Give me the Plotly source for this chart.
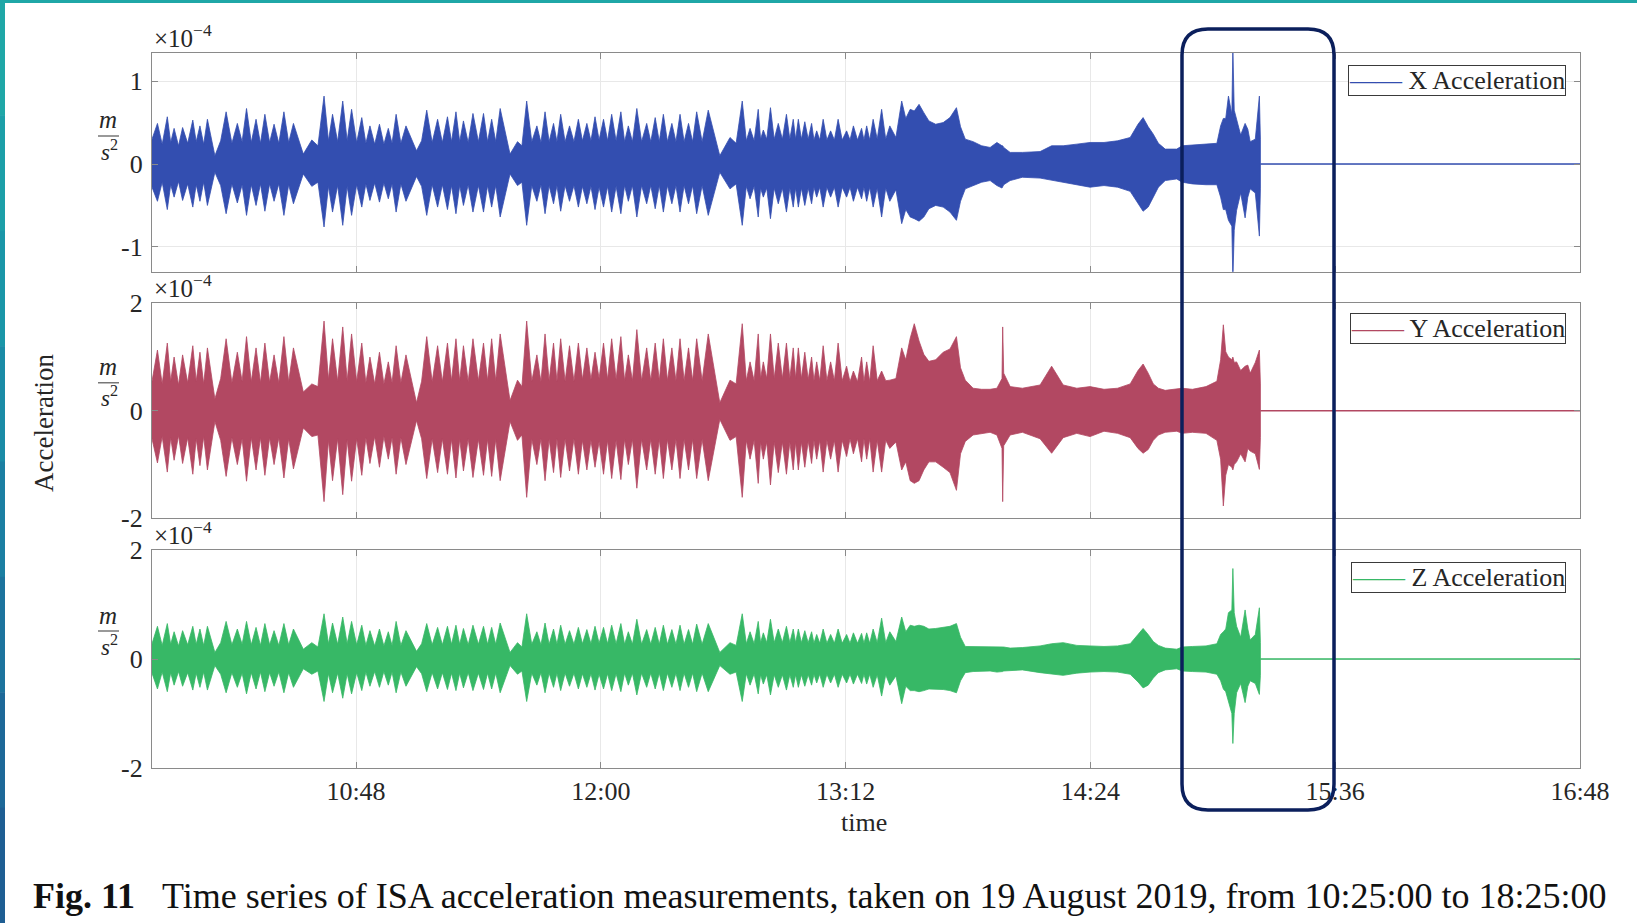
import pandas as pd
import plotly.graph_objects as go

# ---------------- data ----------------
day = "2019-08-19"
axis_start = "09:48"
axis_end = "16:48"
tick_labels = ["10:48", "12:00", "13:12", "14:24", "15:36", "16:48"]

# envelope sample times, minutes after 09:48 (burst peaks and the troughs between them)
t_min = [
    0.0, 1.6, 3.0, 4.5, 5.5, 6.5, 7.8, 9.0, 10.5, 12.0, 13.0, 14.1, 15.2, 16.3, 18.5,
    20.2, 21.8, 23.5, 25.1, 26.5, 27.8, 29.2, 30.6, 31.9, 33.2, 34.6, 35.9, 37.3, 38.8, 40.2, 41.6, 44.5, 47.0, 48.8,
    50.6, 51.9, 53.1, 54.6, 56.1, 57.4, 58.7, 60.2, 61.7, 62.9, 64.1, 65.5, 66.9, 68.2, 69.5, 70.6, 71.8, 73.2, 74.7, 77.8,
    79.3, 80.8, 82.4, 84.0, 85.4, 86.9, 88.1, 89.4, 90.5, 91.6, 93.0, 94.4, 96.0, 97.5, 98.7, 99.9, 101.1, 102.4, 105.3, 107.5, 108.8,
    110.2, 111.7, 113.2, 114.4, 115.6, 116.8, 118.1, 119.1, 120.2, 121.5, 122.8, 124.1, 125.4, 126.6, 127.9, 129.1, 130.3, 131.5,
    132.8, 134.0, 135.2, 136.5, 137.9, 139.0, 140.1, 141.3, 142.6, 144.0, 145.5, 146.7, 148.0, 149.2, 150.4, 151.6, 152.9, 154.1,
    155.3, 156.5, 157.8, 159.0, 160.2, 161.8, 163.6, 167.0, 170.0, 171.8,
    173.6, 174.8, 175.9, 177.1, 178.3, 179.0, 179.8, 180.8, 181.9, 183.0, 184.2, 185.4, 186.6, 187.6, 188.6, 189.3, 190.1, 191.0,
    192.0, 193.0, 194.0, 194.7, 195.5, 196.4, 197.4, 198.5, 199.6, 200.7, 201.8, 203.0, 204.3, 205.3, 206.3, 207.5, 208.7, 209.4,
    210.2, 211.1, 212.1, 213.3, 214.6, 215.8, 217.0, 218.8, 220.5,
    221.7, 223.0, 224.2, 225.6, 227.0, 228.5, 230.5, 232.7, 234.7, 236.6, 237.8, 239.2, 241.5, 244.0, 246.5,
    248.5, 250.0, 250.2, 250.5, 252.4, 256.0, 261.2, 264.6, 268.0, 272.0, 275.9, 280.0, 284.0, 287.7, 290.0, 291.5, 293.0, 294.5,
    296.0, 298.0, 301.4, 303.0, 306.0, 310.0, 313.2, 314.3, 315.1, 315.8, 316.6, 317.6, 317.9, 318.3, 319.0, 320.2, 321.5, 322.3,
    323.0, 324.5, 325.7, 326.0,
]

# X acceleration envelope (x1e-4 m/s^2)
x_hi = [
    .30, .49, .24, .57, .26, .43, .22, .44, .25, .53, .27, .46, .24, .54, .10,
    .28, .63, .25, .49, .27, .67, .26, .54, .25, .60, .26, .48, .25, .63, .26, .49, .12, .29, .22,
    .82, .28, .60, .27, .76, .28, .66, .26, .56, .25, .46, .24, .48, .24, .43, .25, .60, .25, .46, .16,
    .28, .65, .26, .54, .26, .57, .27, .63, .27, .52, .26, .61, .27, .61, .27, .54, .27, .67, .12, .27, .22,
    .76, .27, .46, .26, .63, .27, .49, .27, .60, .27, .46, .27, .54, .28, .49, .28, .57, .29,
    .54, .28, .60, .28, .63, .27, .46, .27, .67, .27, .49, .27, .56, .27, .60, .27, .49, .27,
    .60, .27, .49, .27, .63, .27, .65, .10, .32, .25,
    .76, .28, .43, .28, .66, .30, .41, .30, .68, .30, .49, .30, .60, .30, .54, .30, .54, .30,
    .51, .30, .49, .29, .40, .29, .54, .29, .40, .29, .54, .29, .40, .29, .46, .29, .43, .29,
    .46, .29, .54, .30, .66, .30, .46, .32, .76,
    .55, .66, .64, .72, .62, .52, .48, .50, .56, .68, .45, .30, .27, .22, .20,
    .26, .22, .22, .20, .14, .14, .15, .22, .22, .24, .26, .26, .28, .32, .48, .56, .45, .36,
    .25, .18, .18, .22, .23, .24, .25, .46, .55, .55, .82, .60, 1.40, .65, .54, .35, .49, .42,
    .27, .30, .82, .30,
]
x_lo = [
    -.28, -.45, -.22, -.55, -.25, -.40, -.21, -.44, -.24, -.52, -.25, -.45, -.22, -.50, -.10,
    -.26, -.60, -.24, -.47, -.25, -.62, -.25, -.50, -.24, -.57, -.24, -.45, -.24, -.62, -.25, -.48, -.12, -.27, -.22,
    -.76, -.27, -.58, -.26, -.74, -.27, -.62, -.25, -.52, -.24, -.44, -.23, -.46, -.23, -.42, -.24, -.58, -.24, -.45, -.15,
    -.27, -.62, -.25, -.52, -.25, -.55, -.26, -.60, -.26, -.50, -.25, -.58, -.26, -.58, -.26, -.52, -.26, -.64, -.12, -.26, -.22,
    -.74, -.26, -.45, -.25, -.60, -.26, -.48, -.26, -.57, -.26, -.45, -.26, -.52, -.27, -.48, -.27, -.55, -.28,
    -.52, -.27, -.58, -.27, -.60, -.26, -.45, -.26, -.64, -.26, -.48, -.26, -.54, -.26, -.58, -.26, -.48, -.26,
    -.58, -.26, -.48, -.26, -.60, -.26, -.62, -.10, -.30, -.24,
    -.74, -.27, -.42, -.27, -.64, -.29, -.40, -.29, -.66, -.29, -.48, -.29, -.58, -.29, -.52, -.29, -.52, -.29,
    -.50, -.29, -.48, -.28, -.40, -.28, -.52, -.28, -.40, -.28, -.52, -.28, -.40, -.28, -.45, -.28, -.42, -.28,
    -.45, -.28, -.52, -.29, -.64, -.29, -.45, -.31, -.72,
    -.55, -.64, -.66, -.69, -.64, -.54, -.50, -.52, -.58, -.68, -.45, -.30, -.26, -.22, -.20,
    -.26, -.29, -.28, -.25, -.20, -.16, -.17, -.20, -.22, -.25, -.28, -.26, -.28, -.33, -.48, -.57, -.52, -.40,
    -.28, -.20, -.18, -.22, -.24, -.25, -.25, -.40, -.55, -.55, -.68, -.75, -1.40, -.80, -.56, -.35, -.65, -.40,
    -.30, -.35, -.87, -.30,
]

# Y acceleration envelope
y_hi = [
    .55, 1.13, .50, 1.26, .55, 1.00, .48, 1.04, .52, 1.21, .55, 1.09, .50, 1.17, .22,
    .60, 1.34, .52, 1.09, .55, 1.38, .54, 1.17, .52, 1.26, .53, 1.04, .52, 1.38, .54, 1.17, .35, .50, .45,
    1.67, .58, 1.34, .55, 1.56, .56, 1.43, .54, 1.26, .52, 1.00, .50, 1.09, .50, .91, .52, 1.21, .52, 1.04, .15,
    .55, 1.38, .54, 1.21, .54, 1.26, .56, 1.34, .56, 1.21, .54, 1.34, .56, 1.26, .56, 1.34, .56, 1.43, .19, .57, .45,
    1.67, .55, 1.04, .54, 1.43, .56, 1.26, .55, 1.34, .55, 1.21, .55, 1.26, .58, 1.17, .58, 1.09, .60,
    1.26, .58, 1.34, .58, 1.38, .56, 1.04, .56, 1.51, .56, 1.17, .56, 1.26, .56, 1.34, .56, 1.17, .56,
    1.34, .56, 1.17, .56, 1.34, .56, 1.43, .15, .57, .50,
    1.62, .56, .91, .56, 1.43, .60, .91, .60, 1.43, .60, 1.26, .60, 1.26, .60, 1.17, .60, 1.17, .60,
    1.09, .58, 1.00, .56, .91, .56, 1.21, .56, .91, .56, 1.26, .56, .83, .54, .74, .54, 1.00, .54,
    .91, .54, 1.21, .56, .74, .56, .57, .60, 1.17,
    .95, 1.35, 1.62, 1.30, 1.05, .92, .95, 1.09, 1.15, 1.38, .80, .57, .42, .40, .40,
    .42, .60, 1.56, .70, .45, .42, .48, .83, .48, .42, .45, .40, .42, .50, .75, .87, .70, .50,
    .42, .38, .40, .42, .40, .45, .55, .95, 1.60, 1.10, 1.00, .95, 1.00, .90, .91, .75, .83, .85,
    .70, .90, 1.13, .50,
]
y_lo = [
    -.52, -.97, -.48, -1.14, -.50, -.92, -.46, -.98, -.50, -1.18, -.52, -1.02, -.48, -1.10, -.20,
    -.55, -1.22, -.50, -1.00, -.52, -1.31, -.50, -1.10, -.50, -1.20, -.50, -1.00, -.50, -1.25, -.52, -1.08, -.32, -.48, -.45,
    -1.69, -.55, -1.30, -.52, -1.56, -.54, -1.31, -.52, -1.20, -.50, -.98, -.48, -1.05, -.48, -.90, -.50, -1.18, -.50, -1.00, -.18,
    -.52, -1.26, -.52, -1.15, -.52, -1.18, -.53, -1.25, -.53, -1.12, -.52, -1.24, -.53, -1.20, -.53, -1.22, -.53, -1.30, -.20, -.55, -.45,
    -1.61, -.53, -1.00, -.52, -1.30, -.53, -1.15, -.52, -1.24, -.52, -1.12, -.52, -1.18, -.55, -1.10, -.55, -1.05, -.57,
    -1.18, -.55, -1.26, -.55, -1.28, -.53, -1.00, -.53, -1.44, -.53, -1.10, -.53, -1.18, -.53, -1.26, -.53, -1.10, -.53,
    -1.26, -.53, -1.10, -.53, -1.26, -.53, -1.30, -.16, -.55, -.48,
    -1.61, -.55, -.90, -.55, -1.35, -.58, -.90, -.58, -1.38, -.58, -1.15, -.58, -1.18, -.58, -1.10, -.58, -1.10, -.58,
    -1.05, -.56, -.98, -.55, -.90, -.55, -1.14, -.55, -.90, -.55, -1.14, -.55, -.85, -.52, -.80, -.52, -.95, -.52,
    -.90, -.52, -1.14, -.55, -1.14, -.55, -.70, -.58, -1.10,
    -.95, -1.30, -1.35, -1.30, -1.10, -.95, -.95, -1.05, -1.15, -1.48, -.80, -.57, -.45, -.42, -.40,
    -.45, -.70, -1.69, -.65, -.45, -.40, -.52, -.79, -.50, -.42, -.48, -.38, -.42, -.50, -.70, -.79, -.72, -.55,
    -.45, -.40, -.38, -.42, -.40, -.42, -.55, -.90, -1.77, -1.20, -1.00, -1.05, -1.10, -1.00, -.95, -.80, -.95, -.70,
    -.75, -.80, -1.09, -.50,
]

# Z acceleration envelope
z_hi = [
    .28, .60, .25, .65, .27, .50, .24, .52, .26, .60, .27, .55, .25, .60, .12,
    .30, .69, .26, .55, .27, .69, .26, .58, .25, .65, .26, .52, .25, .65, .26, .55, .18, .30, .22,
    .83, .28, .66, .27, .77, .28, .69, .26, .62, .25, .52, .24, .55, .24, .50, .25, .69, .25, .52, .14,
    .28, .65, .26, .58, .26, .60, .27, .62, .27, .56, .26, .62, .27, .60, .27, .58, .27, .66, .12, .30, .22,
    .83, .27, .50, .26, .66, .27, .55, .27, .62, .27, .52, .27, .58, .28, .54, .28, .60, .29,
    .58, .28, .62, .28, .65, .27, .50, .27, .73, .27, .54, .27, .58, .27, .62, .27, .54, .27,
    .62, .27, .54, .27, .64, .27, .65, .12, .30, .25,
    .83, .28, .50, .28, .69, .30, .48, .30, .73, .30, .55, .30, .60, .30, .55, .30, .55, .30,
    .52, .30, .50, .29, .45, .29, .55, .29, .45, .29, .55, .29, .45, .29, .48, .29, .47, .29,
    .48, .29, .55, .30, .75, .30, .50, .32, .77,
    .50, .62, .60, .62, .60, .55, .56, .58, .60, .65, .40, .23, .23, .22, .22,
    .23, .22, .22, .22, .20, .21, .24, .28, .30, .25, .24, .23, .24, .28, .45, .56, .45, .32,
    .25, .20, .18, .22, .23, .24, .28, .45, .50, .55, .85, .90, 1.66, .85, .60, .40, .90, .55,
    .35, .45, .94, .30,
]
z_lo = [
    -.26, -.55, -.24, -.60, -.25, -.48, -.23, -.50, -.25, -.57, -.26, -.52, -.24, -.57, -.12,
    -.28, -.62, -.25, -.52, -.26, -.64, -.25, -.55, -.24, -.60, -.25, -.50, -.24, -.62, -.25, -.52, -.18, -.28, -.22,
    -.78, -.27, -.62, -.26, -.72, -.27, -.64, -.25, -.58, -.24, -.50, -.23, -.52, -.23, -.48, -.24, -.62, -.24, -.50, -.14,
    -.27, -.60, -.25, -.55, -.25, -.56, -.26, -.58, -.26, -.53, -.25, -.58, -.26, -.56, -.26, -.55, -.26, -.62, -.12, -.28, -.22,
    -.78, -.26, -.48, -.25, -.62, -.26, -.52, -.26, -.58, -.26, -.50, -.26, -.55, -.27, -.52, -.27, -.57, -.28,
    -.55, -.27, -.58, -.27, -.60, -.26, -.48, -.26, -.66, -.26, -.52, -.26, -.55, -.26, -.58, -.26, -.52, -.26,
    -.58, -.26, -.52, -.26, -.60, -.26, -.60, -.12, -.28, -.24,
    -.78, -.27, -.48, -.27, -.64, -.29, -.46, -.29, -.66, -.29, -.52, -.29, -.57, -.29, -.52, -.29, -.52, -.29,
    -.50, -.29, -.48, -.28, -.44, -.28, -.52, -.28, -.44, -.28, -.52, -.28, -.44, -.28, -.46, -.28, -.45, -.28,
    -.46, -.28, -.52, -.29, -.68, -.29, -.48, -.31, -.82,
    -.50, -.58, -.58, -.60, -.58, -.55, -.55, -.56, -.58, -.62, -.40, -.25, -.23, -.22, -.22,
    -.24, -.23, -.23, -.22, -.21, -.20, -.25, -.28, -.30, -.26, -.24, -.23, -.24, -.28, -.42, -.53, -.48, -.35,
    -.25, -.20, -.18, -.22, -.23, -.24, -.28, -.40, -.55, -.60, -.80, -1.00, -1.55, -1.00, -.62, -.45, -.80, -.50,
    -.40, -.45, -.65, -.30,
]

# after the end of the recording the signal is flat until 18:25 (minutes after 09:48)
flat_t = [326.0, 517.0]
flat_v = [0.0, 0.0]

y_ticks = [[-1, 0, 1], [-2, 0, 2], [-2, 0, 2]]
y_ranges = [[-1.30, 1.34], [-2, 2], [-2, 2]]
names = ["X Acceleration", "Y Acceleration", "Z Acceleration"]
colors = ["#334eb0", "#b24862", "#37b866"]

lens = [len(a) for a in (t_min, x_hi, x_lo, y_hi, y_lo, z_hi, z_lo)]
assert len(set(lens)) == 1, f"length mismatch {lens}"

# ---------------- layout helpers (pixel -> paper) ----------------
W, H = 1637, 923
ML, MR, MT, MB = 152, 57, 53, 155
PW, PH = W - ML - MR, H - MT - MB


def px(x):
    return (x - ML) / PW


def py(y):
    return (H - MB - y) / PH


SERIF = "Liberation Serif"
TXT = "#262626"

t0 = pd.Timestamp(f"{day} {axis_start}")
t1 = pd.Timestamp(f"{day} {axis_end}")
times = t0 + pd.to_timedelta(t_min, unit="min")
flat_times = t0 + pd.to_timedelta(flat_t, unit="min")
tickvals = [pd.Timestamp(f"{day} {lab}") for lab in tick_labels]

fig = go.Figure()
his = [x_hi, y_hi, z_hi]
los = [x_lo, y_lo, z_lo]
for i in range(3):
    xa = "x" if i == 0 else f"x{i+1}"
    ya = "y" if i == 0 else f"y{i+1}"
    poly_x = list(times) + list(times[::-1])
    poly_y = list(his[i]) + list(los[i][::-1])
    fig.add_trace(go.Scatter(
        x=poly_x, y=poly_y, mode="lines", fill="toself", fillcolor=colors[i],
        line=dict(color=colors[i], width=0.8), showlegend=False, hoverinfo="skip",
        name=names[i], xaxis=xa, yaxis=ya))
    fig.add_trace(go.Scatter(
        x=flat_times, y=flat_v, mode="lines", line=dict(color=colors[i], width=1.4),
        name=names[i], showlegend=False, xaxis=xa, yaxis=ya))

# subplot pixel boxes (top, bottom)
boxes = [(53, 271.7), (303.3, 518.3), (550, 768)]

axis_common = dict(
    showline=True, linecolor="#8a8a8a", linewidth=1.3, mirror="allticks",
    ticks="inside", ticklen=6, tickcolor="#8a8a8a", tickwidth=1,
    showgrid=True, gridcolor="#e8e8e8", gridwidth=1, zeroline=False,
    tickfont=dict(family=SERIF, size=26, color=TXT),
)

layout = dict(
    width=W, height=H, margin=dict(l=ML, r=MR, t=MT, b=MB, pad=0),
    paper_bgcolor="white", plot_bgcolor="white", showlegend=False,
    font=dict(family=SERIF, color=TXT),
)
for i in range(3):
    xk = "xaxis" if i == 0 else f"xaxis{i+1}"
    yk = "yaxis" if i == 0 else f"yaxis{i+1}"
    top, bot = boxes[i]
    layout[xk] = dict(
        axis_common, type="date", range=[t0, t1], domain=[0, 1],
        anchor="y" if i == 0 else f"y{i+1}",
        tickvals=tickvals, ticktext=tick_labels,
        showticklabels=(i == 2), ticklabelstandoff=0,
    )
    layout[yk] = dict(
        axis_common, range=y_ranges[i], domain=[py(bot), py(top)],
        anchor="x" if i == 0 else f"x{i+1}",
        tickvals=y_ticks[i], ticktext=[str(v) for v in y_ticks[i]],
        ticklabelstandoff=3,
    )
fig.update_layout(**layout)

ann = []
shapes = []
zero_px = [164, 410.8, 659]
legend_tops = [65, 313, 562]
for i in range(3):
    top, bot = boxes[i]
    ann.append(dict(text="×10<sup>−4</sup>", x=px(152), y=py(top - 17), xref="paper", yref="paper",
                    xanchor="left", yanchor="middle", showarrow=False,
                    font=dict(family=SERIF, size=25, color=TXT)))
    z = zero_px[i]
    ann.append(dict(text="<i>m</i>", x=px(108), y=py(z - 44), xref="paper", yref="paper",
                    xanchor="center", yanchor="middle", showarrow=False,
                    font=dict(family=SERIF, size=25, color=TXT)))
    ann.append(dict(text="<i>s</i><sup>2</sup>", x=px(109), y=py(z - 14), xref="paper", yref="paper",
                    xanchor="center", yanchor="middle", showarrow=False,
                    font=dict(family=SERIF, size=23, color=TXT)))
    shapes.append(dict(type="line", xref="paper", yref="paper", x0=px(98), x1=px(119),
                       y0=py(z - 28), y1=py(z - 28), line=dict(color="#555555", width=1.2)))
    # legend box for each panel
    ann.append(dict(text=f"<span style='color:{colors[i]}'>——</span> {names[i]}",
                    x=px(1566), y=py(legend_tops[i]), xref="paper", yref="paper",
                    xanchor="right", yanchor="top", showarrow=False,
                    bgcolor="white", bordercolor="#3a3a3a", borderwidth=1, borderpad=0,
                    font=dict(family=SERIF, size=26, color=TXT)))

ann.append(dict(text="Acceleration", x=px(44), y=py(423), xref="paper", yref="paper",
                textangle=-90, showarrow=False, xanchor="center", yanchor="middle",
                font=dict(family=SERIF, size=27, color=TXT)))
ann.append(dict(text="time", x=px(864), y=py(822), xref="paper", yref="paper",
                showarrow=False, xanchor="center", yanchor="middle",
                font=dict(family=SERIF, size=26, color=TXT)))
ann.append(dict(text="<b>Fig. 11</b>\u2002\u2005Time series of ISA acceleration measurements, taken on 19 August 2019, from 10:25:00 to 18:25:00",
                x=px(31), y=py(896), xref="paper", yref="paper", showarrow=False,
                xanchor="left", yanchor="middle", font=dict(family=SERIF, size=36, color="#111111")))

# teal frame of the slide
shapes.append(dict(type="rect", xref="paper", yref="paper", x0=px(0), x1=px(W), y0=py(3), y1=py(0),
                   fillcolor="#1fa7a7", line=dict(width=0), layer="above"))
frame_cols = ["#1fa7a7", "#1c9fa8", "#1a96a8", "#1a8ba6", "#1b7fa2", "#1c739d", "#1d6898", "#1e5e93"]
seg = H / len(frame_cols)
for k, c in enumerate(frame_cols):
    shapes.append(dict(type="rect", xref="paper", yref="paper", x0=px(0), x1=px(5),
                       y0=py((k + 1) * seg + 0.5), y1=py(k * seg), fillcolor=c, line=dict(width=0), layer="above"))

# rounded highlight box
bx0, bx1, by0, by1 = px(1182), px(1334), py(810), py(29)
rx, ry = 26 / PW, 26 / PH
path = (f"M {bx0+rx},{by1} L {bx1-rx},{by1} Q {bx1},{by1} {bx1},{by1-ry} "
        f"L {bx1},{by0+ry} Q {bx1},{by0} {bx1-rx},{by0} L {bx0+rx},{by0} "
        f"Q {bx0},{by0} {bx0},{by0+ry} L {bx0},{by1-ry} Q {bx0},{by1} {bx0+rx},{by1} Z")
shapes.append(dict(type="path", xref="paper", yref="paper", path=path,
                   line=dict(color="#0b1f5c", width=3.5), layer="above"))

fig.update_layout(annotations=ann, shapes=shapes)
fig.write_html("out.html")
